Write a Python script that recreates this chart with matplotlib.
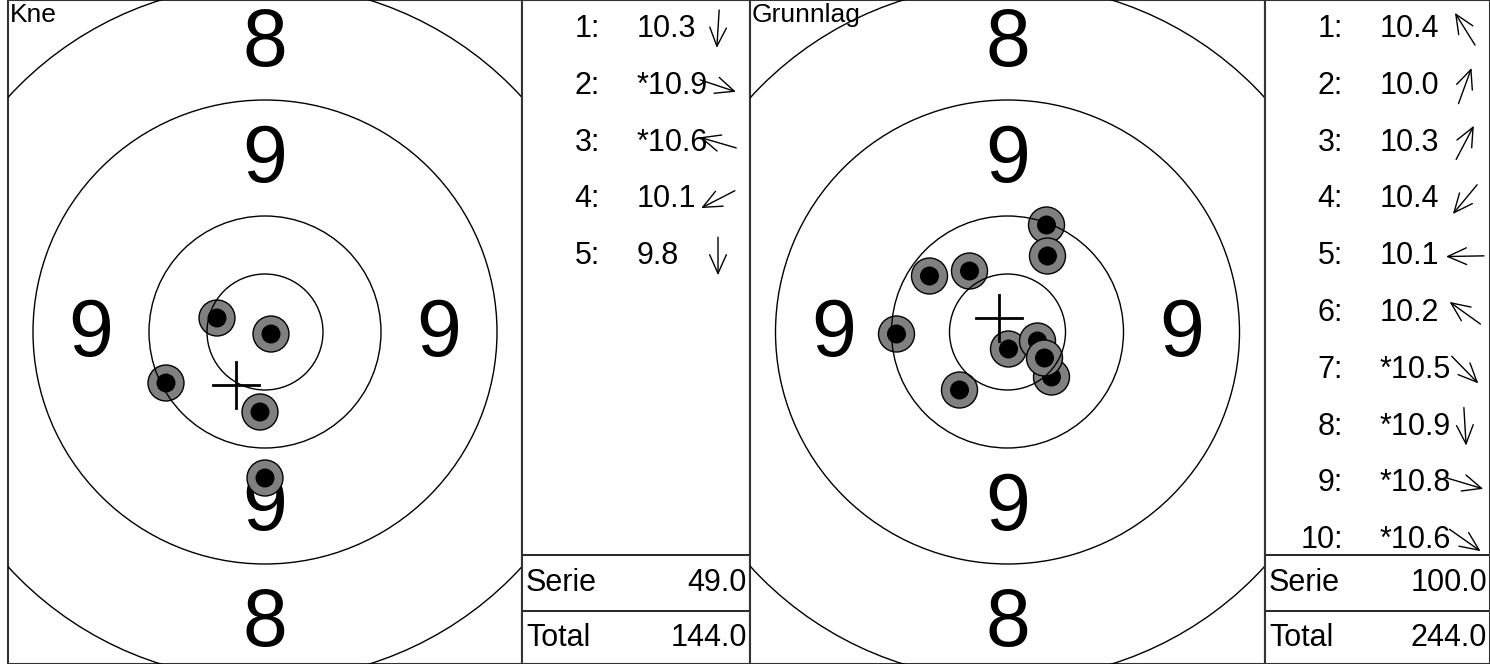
import numpy as np
import matplotlib.pyplot as plt
from matplotlib.patches import Circle

plt.rcParams['font.family'] = ['Liberation Sans', 'DejaVu Sans']

W, H = 1490, 664

# ringer, radius i px fra sentrum
ring_radius = [58, 116, 232, 348]
ring_label_names = ['9', '8']
ring_label_dist = [174, 290]

# serie 1: kne (treff i px fra sentrum, x mot hoyre, y opp)
kne_x = [-5, 6, -48, -99, 0]
kne_y = [-80, -2, 14, -51, -146]
kne_scores = ['10.3', '*10.9', '*10.6', '10.1', '9.8']
kne_serie = '49.0'
kne_total = '144.0'

# serie 2: grunnlag
grunn_x = [-38, 39, 40, -48, -111, -78, 44, 1, 30, 37]
grunn_y = [61, 107, 76, -58, -2, 56, -45, -17, -9, -26]
grunn_scores = ['10.4', '10.0', '10.3', '10.4', '10.1', '10.2',
                '*10.5', '*10.9', '*10.8', '*10.6']
grunn_serie = '100.0'
grunn_total = '244.0'

fig = plt.figure(figsize=(W / 100, H / 100), dpi=100)


def add_px_axes(x0, x1):
    ax = fig.add_axes([x0 / W, 0, (x1 - x0) / W, 1])
    ax.set_xticks([])
    ax.set_yticks([])
    for s in ax.spines.values():
        s.set_color('#333333')
        s.set_linewidth(1.5)
    return ax


def draw_target(ax, xs, ys, title):
    w = ax.get_position().width * W
    ax.set_xlim(-w / 2, w / 2)
    ax.set_ylim(-H / 2, H / 2)
    for r in ring_radius:
        ax.add_patch(Circle((0, 0), r, fill=False, ec='black', lw=1, zorder=4))
    for name, d in zip(ring_label_names, ring_label_dist):
        for px, py in [(d, 0), (-d, 0), (0, d), (0, -d)]:
            # tall som havner utenfor feltet tegnes ikke
            if abs(px) > w / 2:
                continue
            ax.text(px, py - 3, name, fontsize=58, ha='center', va='center', zorder=1)
    for x, y in zip(xs, ys):
        ax.add_patch(Circle((x, y), 18, fc='#808080', ec='black', lw=1, zorder=3))
        ax.add_patch(Circle((x, y), 9.5, fc='black', ec='none', zorder=3))
    mx, my = np.mean(xs), np.mean(ys)
    ax.plot([mx - 23, mx + 23], [my, my], color='black', lw=2, zorder=5)
    ax.plot([mx, mx], [my - 23, my + 23], color='black', lw=2, zorder=5)
    ax.text(2 / w, 1 - 3 / H, title, transform=ax.transAxes, fontsize=19,
            ha='left', va='top', zorder=6)


def draw_table(ax, xs, ys, scores, serie, total, arrow_x):
    w = ax.get_position().width * W
    ax.set_xlim(0, w)
    ax.set_ylim(H, 0)
    for i, (x, y, s) in enumerate(zip(xs, ys, scores)):
        ry = 29 + 56.8 * i
        ax.text(78, ry, f'{i + 1}:', fontsize=22, ha='right', va='center')
        ax.text(115, ry, s, fontsize=22, ha='left', va='center')
        d = np.hypot(x, y)
        ux, uy = x / d, -y / d
        ax.annotate('', xy=(arrow_x + 19 * ux, ry + 19 * uy),
                    xytext=(arrow_x - 19 * ux, ry - 19 * uy),
                    arrowprops=dict(arrowstyle='->,head_length=1.35,head_width=0.6',
                                    lw=1, color='black', shrinkA=0, shrinkB=0,
                                    mutation_scale=10))
    ax.axhline(555, color='black', lw=1.2)
    ax.axhline(611, color='black', lw=1.2)
    ax.text(4, 583, 'Serie', fontsize=22, ha='left', va='center')
    ax.text(w - 3, 583, serie, fontsize=22, ha='right', va='center')
    ax.text(4, 638, 'Total', fontsize=22, ha='left', va='center')
    ax.text(w - 3, 638, total, fontsize=22, ha='right', va='center')


ax1 = add_px_axes(8, 522)
draw_target(ax1, kne_x, kne_y, 'Kne')
ax2 = add_px_axes(522, 750)
draw_table(ax2, kne_x, kne_y, kne_scores, kne_serie, kne_total, 196)
ax3 = add_px_axes(750, 1265)
draw_target(ax3, grunn_x, grunn_y, 'Grunnlag')
ax4 = add_px_axes(1265, 1490)
draw_table(ax4, grunn_x, grunn_y, grunn_scores, grunn_serie, grunn_total, 200)

plt.savefig('out.png', dpi=100)
